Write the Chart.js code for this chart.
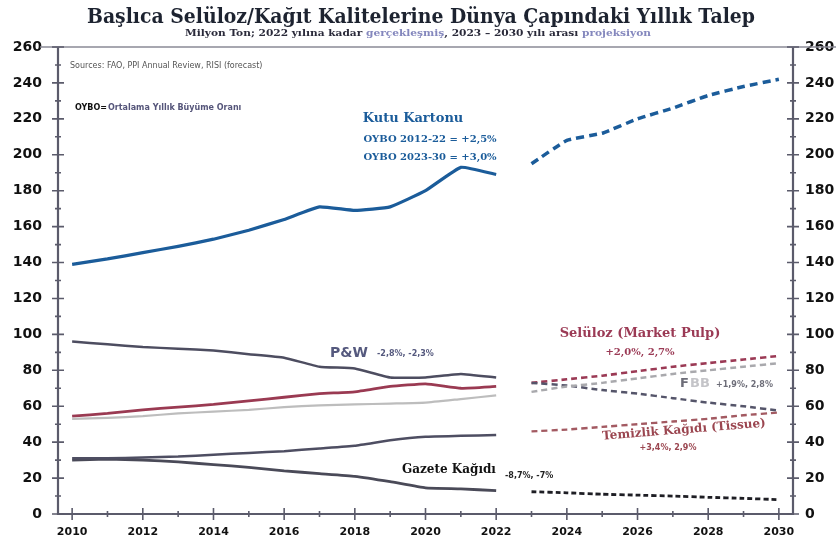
<!DOCTYPE html>
<html><head><meta charset="utf-8">
<script src="https://cdn.jsdelivr.net/npm/chart.js@4.4.0/dist/chart.umd.min.js"></script>
<style>html,body{margin:0;padding:0;background:#fff;}#wrap{width:836px;height:545px;position:relative;}</style>
</head><body><div id="wrap"><canvas id="c" width="836" height="545"></canvas></div>
<script>
// ---- data ----
const histYears = [2010,2011,2012,2013,2014,2015,2016,2017,2018,2019,2020,2021,2022];
const projYears = [2023,2024,2025,2026,2027,2028,2029,2030];
const kutuHist   = [139,142,145.5,149,153,158,164,171,169,171,180,193,189];
const kutuProj   = [195,208,212,220,226,233,238,242];
const pwHist     = [96,94.5,93,92,91,89,87,82,81,76,76,78,76];
const pwProj     = [73,71.5,69,67,64.5,62,60,57.5];
const pulpHist   = [54.5,56,58,59.5,61,63,65,67,68,71,72.5,70,71];
const pulpProj   = [73,75,77,79.5,82,84,86,88];
const fbbHist    = [53,53.5,54.5,56,57,58,59.5,60.5,61,61.5,62,64,66];
const fbbProj    = [68,71,73,75.5,78,80,82,84];
const tissueHist = [31,31,31.5,32,33,34,35,36.5,38,41,43,43.5,44];
const tissueProj = [46,47,48.5,50,51.5,53,55,56.5];
const newsHist   = [30,30.5,30,29,27.5,26,24,22.5,21,18,14.5,14,13];
const newsProj   = [12.4,11.8,11,10.5,10,9.3,8.7,8];
const yTicks = [0,20,40,60,80,100,120,140,160,180,200,220,240,260];
const xTicks = [2010,2012,2014,2016,2018,2020,2022,2024,2026,2028,2030];

const pts = (xs, ys) => xs.map((x,i)=>({x:x,y:ys[i]}));
const AX = '#5b5b6b';

function ds(data, color, width, dash){
  return {data:data, borderColor:color, borderWidth:width, borderDash:dash||[], pointRadius:0, fill:false, tension:0.12, borderCapStyle:'butt'};
}

const datasets = [
  ds(pts(histYears,fbbHist),'#bdbdbd',2.2),
  ds(pts(histYears,tissueHist),'#4e4e62',2.5),
  ds(pts(histYears,newsHist),'#4a4a58',2.8),
  ds(pts(histYears,pwHist),'#4d4d60',2.5),
  ds(pts(histYears,pulpHist),'#9a3a52',2.8),
  ds(pts(histYears,kutuHist),'#1b5c9a',3.2),
  ds(pts(projYears,fbbProj),'#a9a9ad',2.5,[6,4]),
  ds(pts(projYears,pwProj),'#55556a',2.5,[6,4]),
  ds(pts(projYears,pulpProj),'#9b3a55',2.6,[6,4]),
  ds(pts(projYears,tissueProj),'#a35a62',2.4,[6,4]),
  ds(pts(projYears,newsProj),'#1e1e24',2.8,[5,3]),
  ds(pts(projYears,kutuProj),'#1b5c9a',3.5,[8,5]),
];

const frame = {
  id:'frame',
  afterDraw(chart){
    const ctx = chart.ctx, a = chart.chartArea;
    const y = chart.scales.y, x = chart.scales.x;
    ctx.save();
    ctx.strokeStyle = AX; ctx.lineWidth = 2.2;
    ctx.beginPath();
    ctx.moveTo(a.left, a.top); ctx.lineTo(a.left, a.bottom); ctx.lineTo(a.right, a.bottom); ctx.lineTo(a.right, a.top);
    ctx.stroke();
    ctx.strokeStyle = '#8a8a96'; ctx.lineWidth = 1.5;
    ctx.beginPath(); ctx.moveTo(40, a.top); ctx.lineTo(836, a.top); ctx.stroke();
    ctx.strokeStyle = AX; ctx.lineWidth = 1.6;
    for (let v=0; v<=260; v+=10){
      const py = y.getPixelForValue(v);
      const L = (v%20===0)?6:3;
      ctx.beginPath();
      ctx.moveTo(a.left-L, py); ctx.lineTo(a.left+L, py);
      ctx.moveTo(a.right-L, py); ctx.lineTo(a.right+L, py);
      ctx.stroke();
    }
    for (let yr=2010; yr<=2030; yr++){
      const px = x.getPixelForValue(yr);
      const L = (yr%2===0)?6:3;
      ctx.beginPath(); ctx.moveTo(px, a.bottom-L); ctx.lineTo(px, a.bottom+L); ctx.stroke();
    }
    function fitText(t, cx, cy, font, color, w){
      ctx.font = font; ctx.fillStyle = color;
      const m = ctx.measureText(t).width;
      ctx.save(); ctx.translate(cx, cy); ctx.scale(w/m, 1);
      ctx.textAlign='center'; ctx.textBaseline='middle'; ctx.fillText(t,0,0); ctx.restore();
    }
    fitText('Başlıca Selüloz/Kağıt Kalitelerine Dünya Çapındaki Yıllık Talep', 421, 18, 'bold 20px "DejaVu Serif"', '#1d2330', 668);
    const segs = [['Milyon Ton; 2022 yılına kadar ','#2a2a3a'],['gerçekleşmiş','#8487bd'],[', 2023 – 2030 yılı arası ','#2a2a3a'],['projeksiyon','#8487bd']];
    ctx.font = 'bold 9px "DejaVu Serif"';
    let tot = 0; segs.forEach(s=>tot+=ctx.measureText(s[0]).width);
    const sw = 466, sc = sw/tot;
    let sx = 418 - sw/2;
    ctx.textBaseline='middle'; ctx.textAlign='left';
    segs.forEach(s=>{ const w = ctx.measureText(s[0]).width; ctx.save(); ctx.translate(sx,34); ctx.scale(sc,1); ctx.fillStyle=s[1]; ctx.fillText(s[0],0,0); ctx.restore(); sx += w*sc; });

    function txt(t, px, py, font, color, align){
      ctx.font = font; ctx.fillStyle = color; ctx.textAlign = align||'left'; ctx.textBaseline='middle';
      ctx.fillText(t, px, py);
    }
    txt('Sources: FAO, PPI Annual Review, RISI (forecast)', 70, 66, '8px "DejaVu Sans"', '#555');
    txt('OYBO=', 75, 108, 'bold 8px "DejaVu Sans"', '#111');
    txt('Ortalama Yıllık Büyüme Oranı', 108, 108, 'bold 8px "DejaVu Sans"', '#55557a');
    txt('Kutu Kartonu', 413, 119, 'bold 13px "DejaVu Serif"', '#1b5c9a', 'center');
    txt('OYBO 2012-22 = +2,5%', 430, 139, 'bold 10px "DejaVu Serif"', '#1b5c9a', 'center');
    txt('OYBO 2023-30 = +3,0%', 430, 157, 'bold 10px "DejaVu Serif"', '#1b5c9a', 'center');
    txt('P&W', 330, 353, 'bold 14px "DejaVu Sans"', '#55597e');
    txt('-2,8%, -2,3%', 377, 354, 'bold 8px "DejaVu Sans"', '#55597e');
    txt('Selüloz (Market Pulp)', 640, 334, 'bold 13px "DejaVu Serif"', '#9b3a55', 'center');
    txt('+2,0%, 2,7%', 640, 352, 'bold 10px "DejaVu Serif"', '#9b3a55', 'center');
    txt('F', 680, 384, 'bold 13px "DejaVu Sans"', '#6d6d78');
    txt('BB', 690, 384, 'bold 13px "DejaVu Sans"', '#c4c4c8');
    txt('+1,9%, 2,8%', 716, 385, 'bold 8px "DejaVu Sans"', '#6d6d78');
    ctx.save(); ctx.translate(684, 430); ctx.rotate(-0.08);
    txt('Temizlik Kağıdı (Tissue)', 0, 0, 'bold 12px "DejaVu Serif"', '#9b4650', 'center');
    ctx.restore();
    txt('+3,4%, 2,9%', 668, 448, 'bold 8px "DejaVu Sans"', '#9b4650', 'center');
    txt('Gazete Kağıdı', 402, 470, 'bold 12px "DejaVu Serif"', '#111');
    txt('-8,7%, -7%', 505, 476, 'bold 8px "DejaVu Sans"', '#222');
    ctx.restore();
  }
};

new Chart(document.getElementById('c'), {
  type:'line',
  data:{datasets:datasets},
  options:{
    responsive:false, animation:false,
    layout:{padding:{top:47, left:0, right:0, bottom:0}},
    plugins:{legend:{display:false}, tooltip:{enabled:false}},
    scales:{
      x:{type:'linear', min:2009.6, max:2030.4,
         afterBuildTicks(s){ s.ticks = xTicks.map(v=>({value:v})); },
         afterFit(s){ s.height = 31; },
         grid:{display:false, drawTicks:false}, border:{display:false},
         ticks:{color:'#111', font:{family:'DejaVu Sans', weight:'bold', size:11}, padding:12, maxRotation:0, callback:v=>String(v)}},
      y:{type:'linear', min:0, max:260, position:'left',
         afterBuildTicks(s){ s.ticks = yTicks.map(v=>({value:v})); },
         afterFit(s){ s.width = 58; },
         grid:{display:false, drawTicks:false}, border:{display:false},
         ticks:{color:'#111', font:{family:'DejaVu Sans', weight:'bold', size:14}, padding:16}},
      y2:{type:'linear', min:0, max:260, position:'right',
         afterBuildTicks(s){ s.ticks = yTicks.map(v=>({value:v})); },
         afterFit(s){ s.width = 43; },
         grid:{display:false, drawTicks:false}, border:{display:false},
         ticks:{color:'#111', font:{family:'DejaVu Sans', weight:'bold', size:14}, padding:12}}
    }
  },
  plugins:[frame]
});
</script></body></html>
